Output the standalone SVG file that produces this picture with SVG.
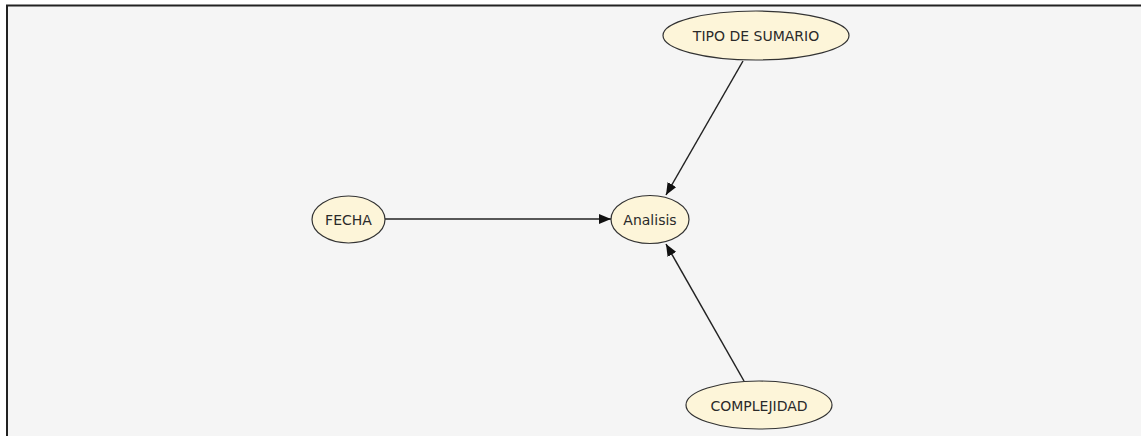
<svg xmlns="http://www.w3.org/2000/svg" width="1141" height="436" viewBox="0 0 1141 436">
<style>
.node ellipse{fill:#fdf5d9;stroke:#333;stroke-width:1.2}
.node text{font-family:"DejaVu Sans",sans-serif;font-size:14px;fill:#2a2a2a;text-anchor:middle;dominant-baseline:central}
.edge{stroke:#222;stroke-width:1.5;fill:none;marker-end:url(#arr)}
</style>
<defs>
<marker id="arr" viewBox="0 0 12 10" refX="12" refY="5" markerWidth="12" markerHeight="10" markerUnits="userSpaceOnUse" orient="auto">
<path d="M0,0 L12,5 L0,10 Z" fill="#111"/>
</marker>
</defs>
<rect width="1141" height="436" fill="#ffffff"/>
<rect x="7" y="5.5" width="1140" height="440" fill="#f5f5f5" stroke="#222" stroke-width="2"/>
<g id="connectors">
<line class="edge" x1="743" y1="61" x2="666" y2="195"/>
<line class="edge" x1="385" y1="219" x2="611" y2="219"/>
<line class="edge" x1="744" y1="381" x2="666" y2="244"/>
</g>
<g id="node-tipo" class="node">
<ellipse cx="756" cy="35.5" rx="93" ry="24.5"/>
<text x="756" y="36">TIPO DE SUMARIO</text>
</g>
<g id="node-fecha" class="node">
<ellipse cx="348.5" cy="219.5" rx="36.5" ry="23.5"/>
<text x="348.5" y="220">FECHA</text>
</g>
<g id="node-analisis" class="node">
<ellipse cx="650" cy="219.5" rx="39" ry="24"/>
<text x="650" y="220">Analisis</text>
</g>
<g id="node-complejidad" class="node">
<ellipse cx="759" cy="405" rx="73" ry="24"/>
<text x="759" y="405.5">COMPLEJIDAD</text>
</g>
</svg>
